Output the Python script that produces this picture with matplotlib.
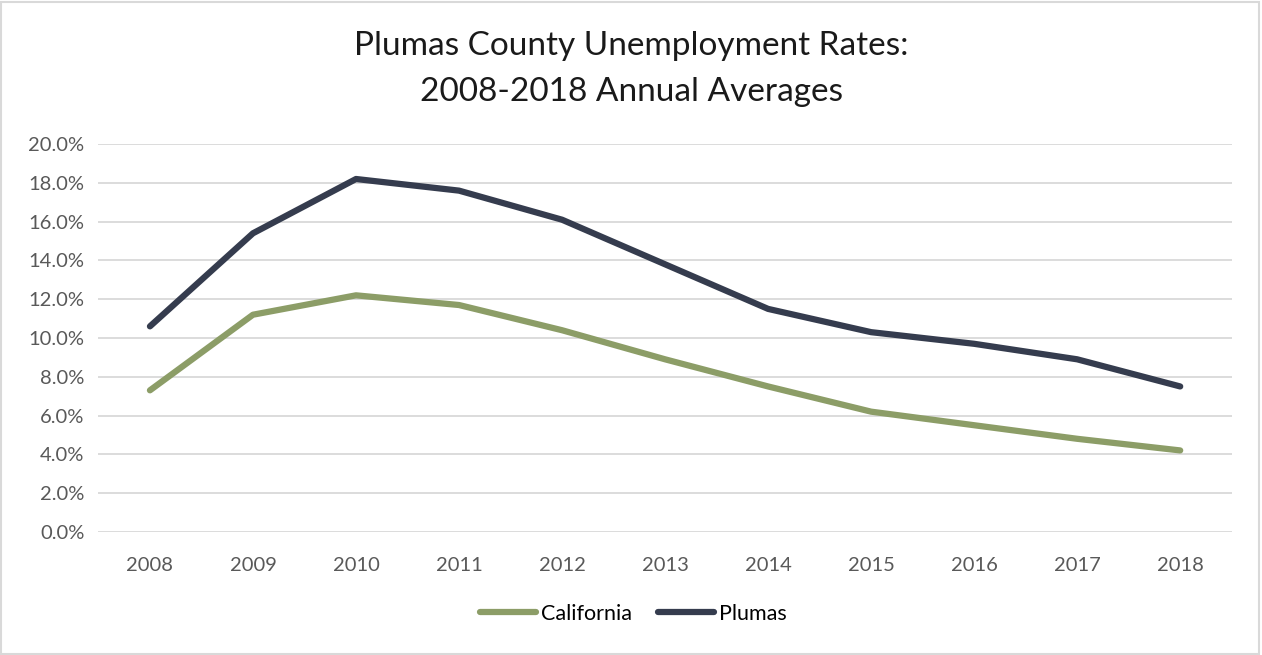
import matplotlib.pyplot as plt
from matplotlib.ticker import FuncFormatter

years = ['2008', '2009', '2010', '2011', '2012', '2013', '2014', '2015', '2016', '2017', '2018']
california = [7.3, 11.2, 12.2, 11.7, 10.4, 8.9, 7.5, 6.2, 5.5, 4.8, 4.2]
plumas = [10.6, 15.4, 18.2, 17.6, 16.1, 13.8, 11.5, 10.3, 9.7, 8.9, 7.5]

plt.rcParams['font.family'] = ['Lato', 'DejaVu Sans']

fig = plt.figure(figsize=(12.62, 6.55), dpi=100)
ax = fig.add_axes([0.078, 0.188, 0.898, 0.592])

x = range(len(years))
ax.plot(x, california, color='#8c9d67', lw=4.5, solid_capstyle='round', label='California')
ax.plot(x, plumas, color='#353c4e', lw=4.5, solid_capstyle='round', label='Plumas')

ax.set_xlim(-0.5, len(years) - 0.5)
ax.set_ylim(0, 20)
ax.set_yticks(range(0, 21, 2))
ax.yaxis.set_major_formatter(FuncFormatter(lambda v, p: f'{v:.1f}%'))
ax.set_xticks(list(x))
ax.set_xticklabels(years)
ax.grid(axis='y', color='#d9d9d9', lw=1.3)
ax.set_axisbelow(True)
for s in ax.spines.values():
    s.set_visible(False)
ax.tick_params(length=0, labelsize=14.5, colors='#595959', pad=10)
ax.tick_params(axis='x', pad=18)

fig.text(0.5, 0.895, 'Plumas County Unemployment Rates:\n2008-2018 Annual Averages',
         ha='center', va='center', fontsize=24, color='#1a1a1a', linespacing=1.65)

fig.legend(loc='center', bbox_to_anchor=(0.502, 0.063), ncol=2, frameon=False,
           fontsize=15.5, handlelength=2.6, handletextpad=0.25, columnspacing=1.2)

fig.patches.append(plt.Rectangle((0.001, 0.002), 0.997, 0.995, transform=fig.transFigure,
                                 fill=False, edgecolor='#d9d9d9', lw=1.5))

fig.savefig('out.png', dpi=100)
